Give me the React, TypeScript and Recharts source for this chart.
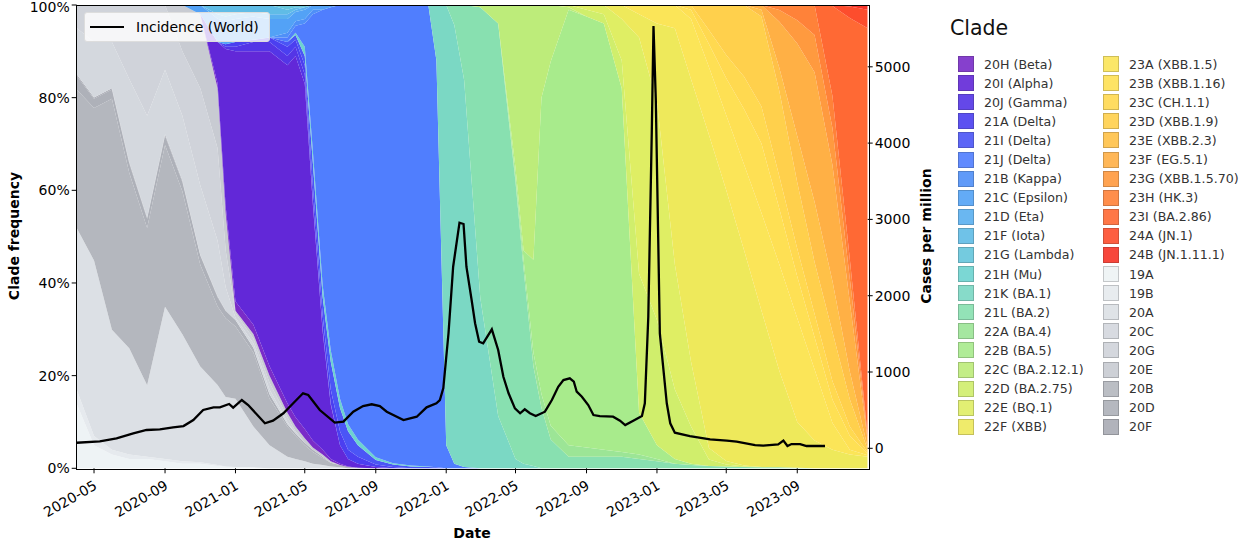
import React from 'react';
import { ComposedChart, LineChart, Area, Line, XAxis, YAxis } from 'recharts';

// sample dates for the clade frequencies
const dates = [
  '2020-04-01', '2020-05-01', '2020-06-01', '2020-07-01', '2020-08-01', '2020-09-01', '2020-10-01',
  '2020-11-01', '2020-12-01', '2020-12-15', '2021-01-01', '2021-02-01', '2021-03-01', '2021-04-01',
  '2021-04-15', '2021-05-01', '2021-05-15', '2021-06-01', '2021-06-15', '2021-07-01', '2021-07-15',
  '2021-08-01', '2021-09-01', '2021-10-01', '2021-11-01', '2021-12-01', '2021-12-15', '2022-01-01',
  '2022-01-15', '2022-02-01', '2022-03-01', '2022-04-01', '2022-05-01', '2022-05-15', '2022-06-01',
  '2022-06-15', '2022-07-01', '2022-08-01', '2022-09-01', '2022-10-01', '2022-11-01', '2022-12-01',
  '2023-01-01', '2023-02-01', '2023-03-01', '2023-04-01', '2023-05-01', '2023-06-01', '2023-07-01',
  '2023-08-01', '2023-09-01', '2023-10-01', '2023-11-01', '2023-12-01', '2024-01-01',
];

// clade frequency (%) : [first date, values from that date on]; zero elsewhere
type Freq = [string, number[]];
const f19A: Freq = ['2020-04-01', [14, 5, 3, 2, 2, 1.5, 1, 1, 0.5, 0.4, 0.3, 0.2]];
const f19B: Freq = ['2020-04-01', [3, 2, 1, 1, 0.5, 0.5, 0.5, 0.3, 0.2]];
const f20A: Freq = ['2020-04-01', [35, 38, 26, 23, 15.5, 33, 27.5, 20.7, 17.3, 15, 14.7, 8.8, 5, 2.5, 2, 1.5, 1, 0.7, 0.4, 0.2]];
const f20B: Freq = ['2020-04-01', [30, 33, 50, 38, 34, 35, 31, 22, 17, 17, 15.6, 16, 10, 6.5, 5, 3.5, 2.5, 1.5, 0.8, 0.5, 0.3, 0.1]];
const f20D: Freq = ['2020-04-01', [3, 2, 2, 2, 2, 2, 2, 2, 2, 1.6, 1.4, 1, 1, 0.5, 0.5, 0.5, 0.5, 0.3]];
const f20F: Freq = ['2020-04-01', [0.3, 0.3, 0.3, 0.3, 0.3, 0.3, 0.3, 0.2, 0.2, 0.1]];
const f20C: Freq = ['2020-04-01', [10, 12, 10, 18, 22, 14, 14, 15, 12, 5, 0.5, 1, 1, 0.5]];
const f20G: Freq = ['2020-04-01', [5, 8, 8, 16, 24, 14, 14, 21, 20, 8, 1, 1, 1.5, 1, 0.5]];
const f20E: Freq = ['2020-10-01', [10, 16, 13, 8, 0.5, 1, 1.5, 1, 1, 1, 0.5, 0.5, 0.3]];
const f20H: Freq = ['2020-12-01', [1, 1.5, 2, 2, 2, 2, 2, 2, 1.5, 1, 0.5, 0.3, 0.1]];
const f20I: Freq = ['2020-12-01', [9, 34, 54, 59, 68, 73, 78, 74.5, 51, 25.5, 11.7, 4, 1.6, 0.9, 0.3]];
const f20J: Freq = ['2020-12-15', [0.5, 1, 2, 2, 2, 2, 2, 1, 0.5, 0.3]];
const f21A: Freq = ['2020-12-15', [0.5, 1, 0.5, 1, 2, 1.5, 2, 3, 3, 3, 3, 2, 1.5, 0.5, 0.3]];
const f21I: Freq = ['2021-04-01', [1, 1, 2, 5, 4, 6, 5, 4, 2.5, 1, 0.5, 0.4, 0.3, 0.2]];
const f21H: Freq = ['2021-04-15', [0.5, 2, 2.5, 2.5, 2.5, 2, 1.5, 1.2, 0.6, 0.3, 0.2, 0.1]];
const f21J: Freq = ['2021-04-01', [1, 1.5, 5, 29.5, 59.5, 74, 85, 90.5, 93.8, 97.6, 98.9, 99.4, 99.6, 87.8, 5, 1, 0.3]];
const f21B: Freq = ['2021-04-01', [1, 1, 1, 1]];
const f21C: Freq = ['2020-11-01', [2, 5, 5, 5, 5, 4, 3, 2, 2, 1, 1, 0.5]];
const f21D: Freq = ['2020-12-01', [1, 1, 1, 1, 1, 1, 0.5, 0.5]];
const f21F: Freq = ['2020-12-01', [2, 2.5, 2, 1.5, 2, 1, 0.5]];
const f21G: Freq = ['2021-04-01', [1, 0.5, 0.5]];
const f21K: Freq = ['2021-12-15', [12, 95, 94.7, 83.5, 36.8, 11.3, 2, 1, 0.5]];
const f21L: Freq = ['2022-01-15', [4.3, 16.2, 62.7, 84.7, 59.8, 42, 21.5, 13, 6.2, 2.5, 2.5, 2.5, 2.5, 2, 1.5, 1, 0.7, 0.5, 0.4, 0.3, 0.2, 0.2, 0.1]];
const f22A: Freq = ['2022-05-01', [1, 2, 3, 3, 3, 2.5, 2, 1.5, 1, 1, 0.5]];
const f22B: Freq = ['2022-05-01', [2, 2, 20, 64, 78.6, 94, 93, 92, 78.5, 9, 3, 1, 0.3]];
const f22C: Freq = ['2022-03-01', [0.5, 4, 35.2, 53, 55, 20, 12.2, 0.5]];
const f22D: Freq = ['2022-08-01', [0.5, 1.5, 2, 6, 30, 27, 15, 8, 1.4, 0.4, 0.1]];
const f22E: Freq = ['2022-09-01', [1, 2, 9, 51, 47, 27, 14, 2.5, 0.8, 0.2, 0.1]];
const f22F: Freq = ['2022-11-01', [3, 5, 17, 51, 61, 67.6, 58.4, 46.4, 33.7, 20.8, 9.9, 6, 4, 3, 2.5]];
const f23A: Freq = ['2022-12-01', [2, 4, 5, 13, 14.6, 16.2, 18.5, 21.1, 23, 22.4, 15.3, 5.8, 1, 0.3]];
const f23B: Freq = ['2023-03-01', [2, 5, 8, 12, 15, 12, 9, 7, 5, 3, 0.3]];
const f23C: Freq = ['2023-03-01', [1, 3, 5, 7, 8, 7, 6, 5, 4, 2, 0.3]];
const f23D: Freq = ['2023-04-01', [5.4, 10.8, 15.5, 19.4, 18.4, 14.3, 11.2, 10.6, 5.9, 0.6]];
const f23E: Freq = ['2023-07-01', [1.5, 5, 10, 13, 11, 6, 0.5]];
const f23F: Freq = ['2023-07-01', [1, 10, 20, 28, 25, 15, 1.5]];
const f23G: Freq = ['2023-08-01', [2.5, 5, 8, 8, 5, 0.5]];
const f23H: Freq = ['2023-08-01', [1.1, 3.3, 6.5, 6.9, 4.3, 0.5]];
const f23I: Freq = ['2023-11-01', [19.5, 52, 88]];
const f24A: Freq = ['2023-11-01', [0.2, 2.5, 4]];
const f24B: Freq = ['2023-12-01', [0.3, 1]];

// weekly-ish incidence, cases per million
const incDates = [
  '2020-04-01', '2020-05-11', '2020-06-09', '2020-07-08', '2020-07-31', '2020-08-23', '2020-09-15',
  '2020-10-03', '2020-10-20', '2020-11-06', '2020-11-24', '2020-12-05', '2020-12-21', '2020-12-28',
  '2021-01-12', '2021-01-23', '2021-02-21', '2021-03-07', '2021-03-25', '2021-04-11', '2021-04-28',
  '2021-05-07', '2021-05-27', '2021-06-22', '2021-07-07', '2021-07-24', '2021-08-10', '2021-08-25',
  '2021-09-08', '2021-09-20', '2021-10-19', '2021-11-11', '2021-11-28', '2021-12-15', '2021-12-21',
  '2021-12-27', '2022-01-05', '2022-01-13', '2022-01-24', '2022-01-31', '2022-02-05', '2022-02-14',
  '2022-02-20', '2022-02-27', '2022-03-06', '2022-03-21', '2022-04-01', '2022-04-10', '2022-04-19',
  '2022-04-30', '2022-05-09', '2022-05-17', '2022-05-26', '2022-06-05', '2022-06-21', '2022-07-03',
  '2022-07-14', '2022-07-23', '2022-08-03', '2022-08-10', '2022-08-15', '2022-08-24', '2022-09-04',
  '2022-09-13', '2022-09-24', '2022-10-17', '2022-10-29', '2022-11-07', '2022-11-21', '2022-12-06',
  '2022-12-11', '2022-12-17', '2022-12-23', '2022-12-26', '2022-12-30', '2023-01-06', '2023-01-18',
  '2023-01-24', '2023-02-01', '2023-02-27', '2023-04-03', '2023-05-02', '2023-05-19', '2023-06-20',
  '2023-07-04', '2023-07-30', '2023-08-08', '2023-08-15', '2023-08-22', '2023-09-06', '2023-09-17',
  '2023-10-19',
];
const incValues = [
  73, 92, 131, 197, 240, 249, 275,
  292, 371, 502, 537, 537, 581, 532,
  633, 567, 328, 362, 459, 590, 721,
  699, 502, 336, 349, 480, 554, 577,
  554, 480, 371, 414, 537, 590, 633,
  790, 1511, 2380, 2957, 2940, 2380, 1944,
  1640, 1397, 1376, 1559, 1288, 938, 721,
  524, 459, 511, 459, 423, 480, 633,
  807, 895, 917, 873, 742, 676, 567,
  436, 423, 414, 362, 305, 362, 423,
  590, 1725, 4131, 5535, 4565, 1507, 590,
  328, 205, 161, 118, 100, 87, 43,
  34, 52, 100, 30, 56, 56, 30,
  30,
];

const xTicks = ['2020-05-01', '2020-09-01', '2021-01-01', '2021-05-01', '2021-09-01', '2022-01-01',
  '2022-05-01', '2022-09-01', '2023-01-01', '2023-05-01', '2023-09-01'];

// drawing order, bottom of the stack first
const stackOrder: [string, Freq][] = [
  ['19A', f19A], ['19B', f19B], ['20A', f20A], ['20B', f20B], ['20D', f20D], ['20F', f20F],
  ['20C', f20C], ['20G', f20G], ['20E', f20E], ['20H', f20H], ['20I', f20I], ['20J', f20J],
  ['21A', f21A], ['21I', f21I], ['21H', f21H], ['21J', f21J], ['21B', f21B], ['21C', f21C],
  ['21D', f21D], ['21F', f21F], ['21G', f21G], ['21K', f21K], ['21L', f21L], ['22A', f22A],
  ['22B', f22B], ['22C', f22C], ['22D', f22D], ['22E', f22E], ['22F', f22F], ['23A', f23A],
  ['23B', f23B], ['23C', f23C], ['23D', f23D], ['23E', f23E], ['23F', f23F], ['23G', f23G],
  ['23H', f23H], ['23I', f23I], ['24A', f24A], ['24B', f24B],
];

const legendCol1 = ['20H (Beta)', '20I (Alpha)', '20J (Gamma)', '21A (Delta)', '21I (Delta)', '21J (Delta)',
  '21B (Kappa)', '21C (Epsilon)', '21D (Eta)', '21F (Iota)', '21G (Lambda)', '21H (Mu)', '21K (BA.1)',
  '21L (BA.2)', '22A (BA.4)', '22B (BA.5)', '22C (BA.2.12.1)', '22D (BA.2.75)', '22E (BQ.1)', '22F (XBB)'];
const legendCol2 = ['23A (XBB.1.5)', '23B (XBB.1.16)', '23C (CH.1.1)', '23D (XBB.1.9)', '23E (XBB.2.3)',
  '23F (EG.5.1)', '23G (XBB.1.5.70)', '23H (HK.3)', '23I (BA.2.86)', '24A (JN.1)', '24B (JN.1.11.1)',
  '19A', '19B', '20A', '20C', '20G', '20E', '20B', '20D', '20F'];

const colors: Record<string, string> = {
  '20H': '#7a2cc8', '20I': '#6228d8', '20J': '#5435e6', '21A': '#4b3ff0', '21I': '#4b55f6',
  '21J': '#507efe', '21B': '#4f90f8', '21C': '#53a2f6', '21D': '#5ab0f0', '21F': '#60bce6',
  '21G': '#66c6dc', '21H': '#6dd3d0', '21K': '#7bd8c4', '21L': '#88e0b0', '22A': '#9ce596',
  '22B': '#a8eb8c', '22C': '#bdec7a', '22D': '#d0ee6c', '22E': '#dfee64', '22F': '#eee95b',
  '23A': '#fbe558', '23B': '#fee054', '23C': '#ffd950', '23D': '#ffd04c', '23E': '#ffc148',
  '23F': '#ffb045', '23G': '#ff9a3f', '23H': '#ff8239', '23I': '#ff6934', '24A': '#fd4d2d',
  '24B': '#f73428', '19A': '#eef3f5', '19B': '#e6eaee', '20A': '#dce0e5', '20C': '#d4d8de',
  '20G': '#d0d3da', '20E': '#c8cbd2', '20B': '#b4b7be', '20D': '#aeb1b9', '20F': '#a9abb4',
};

const ts = (s: string) => Date.parse(s + 'T00:00:00Z');
const X_DOMAIN = [ts('2020-04-01'), ts('2024-01-01')];

const rows = dates.map((d, i) => {
  const row: Record<string, number> = { t: ts(d) };
  stackOrder.forEach(([key, [from, vals]]) => {
    const k = i - dates.indexOf(from);
    row[key] = k >= 0 && k < vals.length ? vals[k] : 0;
  });
  return row;
});

const incidence = incDates.map((d, i) => ({ t: ts(d), cases: incValues[i] }));

const darken = (hex: string, f: number) => {
  const n = parseInt(hex.slice(1), 16);
  const c = [(n >> 16) & 255, (n >> 8) & 255, n & 255].map(v => Math.round(v * f));
  return `rgb(${c[0]},${c[1]},${c[2]})`;
};

const FONT = '"DejaVu Sans", sans-serif';
const tickStyle = { fill: '#000', fontSize: 14, fontFamily: FONT };

const DateTick = ({ x, y, payload }: any) => {
  const d = new Date(payload.value);
  const label = `${d.getUTCFullYear()}-${String(d.getUTCMonth() + 1).padStart(2, '0')}`;
  return (
    <g transform={`translate(${x + 4},${y + 13})`}>
      <text textAnchor="end" transform="rotate(-30)" fontSize={14} fill="#000" fontFamily={FONT}>{label}</text>
    </g>
  );
};

// top label sits on the frame, nudge it so it stays inside the page
const PctTick = ({ x, y, payload }: any) => (
  <text x={x} y={y + (payload.value === 1 ? 2 : 0)} dy="0.355em" textAnchor="end" {...tickStyle}>
    {`${Math.round(payload.value * 100)}%`}
  </text>
);

const LegendItem = ({ label }: { label: string }) => {
  const c = colors[label.slice(0, 3)];
  return (
    <div style={{ display: 'flex', alignItems: 'center', height: 19.1 }}>
      <div style={{ width: 14, height: 14, background: c, opacity: 0.9, border: `1.5px solid ${darken(c, 0.8)}`, marginRight: 10 }} />
      <span style={{ fontSize: 12.6, color: '#333', whiteSpace: 'nowrap' }}>{label}</span>
    </div>
  );
};

const layer: React.CSSProperties = { position: 'absolute', left: 0, top: 0 };

export default function App() {
  return (
    <div style={{ position: 'absolute', left: 0, top: 0, width: 1257, height: 545, background: '#fff', fontFamily: FONT }}>
      {/* clade frequencies, normalised to 100% */}
      <div style={layer}>
        <ComposedChart width={940} height={545} data={rows} stackOffset="expand"
          margin={{ top: 5, right: 72.3, bottom: 16.7, left: 16.7 }}>
          <XAxis dataKey="t" type="number" scale="time" domain={X_DOMAIN} interval={0}
            ticks={xTicks.map(ts)} tick={<DateTick />} height={60} axisLine={false}
            tickLine={{ stroke: '#000' }} tickSize={5} allowDataOverflow />
          <YAxis yAxisId="left" domain={[0, 1]} ticks={[0, 0.2, 0.4, 0.6, 0.8, 1]} width={60} interval={0}
            tick={<PctTick />} axisLine={false} tickLine={{ stroke: '#000' }} tickSize={5} />
          {stackOrder.map(([key]) => (
            <Area key={key} yAxisId="left" dataKey={key} stackId="clades" type="linear" stroke="none"
              fill={colors[key]} fillOpacity={1} isAnimationActive={false} activeDot={false} />
          ))}
        </ComposedChart>
      </div>

      {/* incidence on the secondary axis */}
      <div style={layer}>
        <LineChart width={940} height={545} data={incidence}
          margin={{ top: 5, right: 12.3, bottom: 76.7, left: 76.7 }}>
          <XAxis dataKey="t" type="number" scale="time" domain={X_DOMAIN} hide allowDataOverflow />
          <YAxis yAxisId="right" orientation="right" domain={[-262, 5810]} allowDataOverflow interval={0}
            ticks={[0, 1000, 2000, 3000, 4000, 5000]} width={60} axisLine={false}
            tick={tickStyle} tickLine={{ stroke: '#000' }} tickSize={5} />
          <Line yAxisId="right" dataKey="cases" type="linear" stroke="#000"
            strokeWidth={2.3} dot={false} activeDot={false} isAnimationActive={false} />
        </LineChart>
      </div>

      {/* frame around the plot */}
      <div style={{ position: 'absolute', left: 76, top: 4.5, width: 791.5, height: 463.5, border: '1.2px solid #000', pointerEvents: 'none' }} />

      {/* in-plot legend for the line */}
      <div style={{ position: 'absolute', left: 84, top: 12, width: 184, height: 28, background: 'rgba(255,255,255,0.8)',
        border: '1px solid #ddd', borderRadius: 3, display: 'flex', alignItems: 'center' }}>
        <div style={{ width: 34, height: 2.3, background: '#000', marginLeft: 5, marginRight: 12 }} />
        <span style={{ fontSize: 14, color: '#000' }}>Incidence (World)</span>
      </div>

      <div style={{ position: 'absolute', left: 14, top: 236, transform: 'translate(-50%,-50%) rotate(-90deg)',
        fontSize: 14, fontWeight: 'bold', whiteSpace: 'nowrap' }}>Clade frequency</div>
      <div style={{ position: 'absolute', left: 926, top: 236, transform: 'translate(-50%,-50%) rotate(-90deg)',
        fontSize: 14, fontWeight: 'bold', whiteSpace: 'nowrap' }}>Cases per million</div>
      <div style={{ position: 'absolute', left: 472, top: 533, transform: 'translate(-50%,-50%)',
        fontSize: 14, fontWeight: 'bold' }}>Date</div>

      <div style={{ position: 'absolute', left: 950, top: 16, fontSize: 20.5, color: '#111' }}>Clade</div>
      <div style={{ position: 'absolute', left: 958, top: 54.5 }}>
        {legendCol1.map(l => <LegendItem key={l} label={l} />)}
      </div>
      <div style={{ position: 'absolute', left: 1103, top: 54.5 }}>
        {legendCol2.map(l => <LegendItem key={l} label={l} />)}
      </div>
    </div>
  );
}
